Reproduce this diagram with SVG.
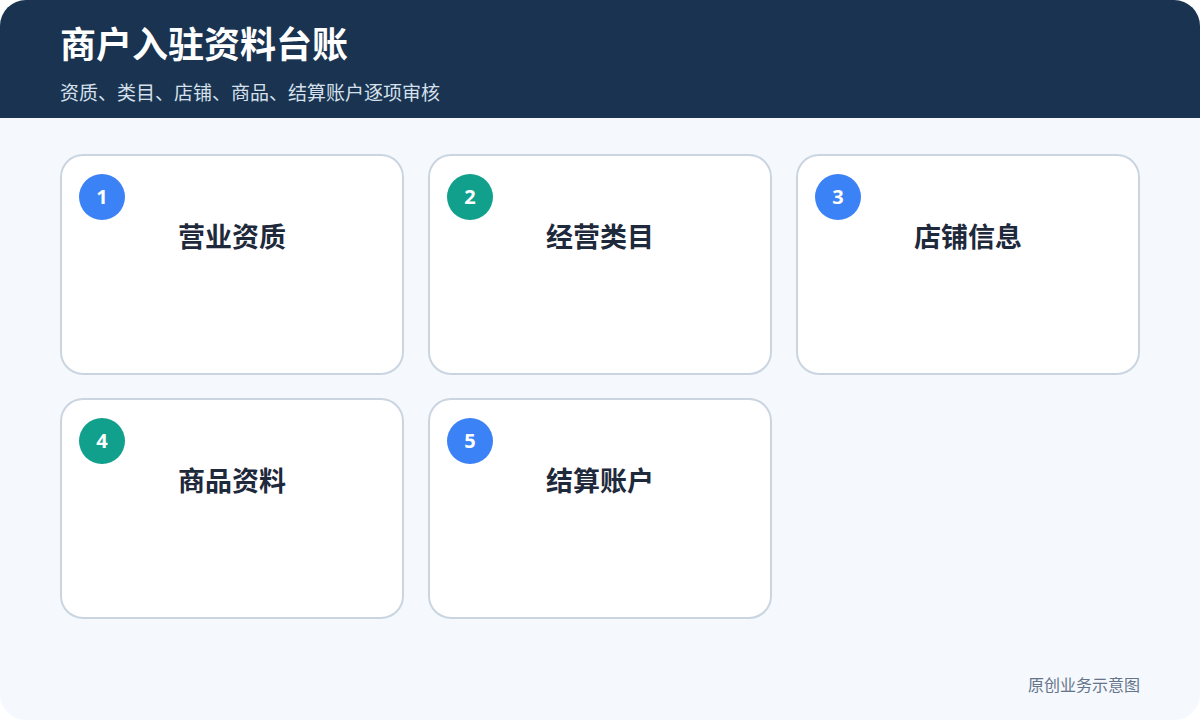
<svg xmlns="http://www.w3.org/2000/svg" width="1200" height="720" viewBox="0 0 1200 720">
<style>
.card{fill:#ffffff;stroke:#cbd5e1;stroke-width:2}
.badge-b{fill:#3b82f6}
.badge-t{fill:#11a08c}
.num{font-family:"Noto Sans","Noto Sans CJK SC",sans-serif;font-weight:700;font-size:20px;fill:#ffffff;text-anchor:middle}
.label{font-family:"Noto Sans CJK SC",sans-serif;font-weight:700;font-size:27px;fill:#1e293b;text-anchor:middle}
</style>
<defs>
<clipPath id="pageClip"><rect x="0" y="0" width="1200" height="720" rx="26"/></clipPath>
</defs>
<rect x="0" y="0" width="1200" height="720" fill="#ffffff"/>
<g clip-path="url(#pageClip)">
<rect x="0" y="0" width="1200" height="720" fill="#f5f8fc"/>
<rect x="0" y="0" width="1200" height="118" fill="#193350"/>
</g>
<g id="header">
<text x="60" y="58" font-family="Noto Sans CJK SC,sans-serif" font-weight="700" font-size="36" fill="#ffffff">商户入驻资料台账</text>
<text x="60" y="100" font-family="Noto Sans CJK SC,sans-serif" font-size="19" fill="#d6e0ec">资质、类目、店铺、商品、结算账户逐项审核</text>
</g>
<g id="node1">
<rect class="card" x="61" y="155" width="342" height="219" rx="22"/>
<circle class="badge-b" cx="102" cy="197" r="23"/>
<text class="num" x="102" y="204">1</text>
<text class="label" x="232" y="247">营业资质</text>
</g>
<g id="node2">
<rect class="card" x="429" y="155" width="342" height="219" rx="22"/>
<circle class="badge-t" cx="470" cy="197" r="23"/>
<text class="num" x="470" y="204">2</text>
<text class="label" x="600" y="247">经营类目</text>
</g>
<g id="node3">
<rect class="card" x="797" y="155" width="342" height="219" rx="22"/>
<circle class="badge-b" cx="838" cy="197" r="23"/>
<text class="num" x="838" y="204">3</text>
<text class="label" x="968" y="247">店铺信息</text>
</g>
<g id="node4">
<rect class="card" x="61" y="399" width="342" height="219" rx="22"/>
<circle class="badge-t" cx="102" cy="441" r="23"/>
<text class="num" x="102" y="448">4</text>
<text class="label" x="232" y="491">商品资料</text>
</g>
<g id="node5">
<rect class="card" x="429" y="399" width="342" height="219" rx="22"/>
<circle class="badge-b" cx="470" cy="441" r="23"/>
<text class="num" x="470" y="448">5</text>
<text class="label" x="600" y="491">结算账户</text>
</g>
<g id="connectors"></g>
<text x="1140" y="691" font-family="Noto Sans CJK SC,sans-serif" font-size="16" fill="#64748b" text-anchor="end">原创业务示意图</text>
</svg>
